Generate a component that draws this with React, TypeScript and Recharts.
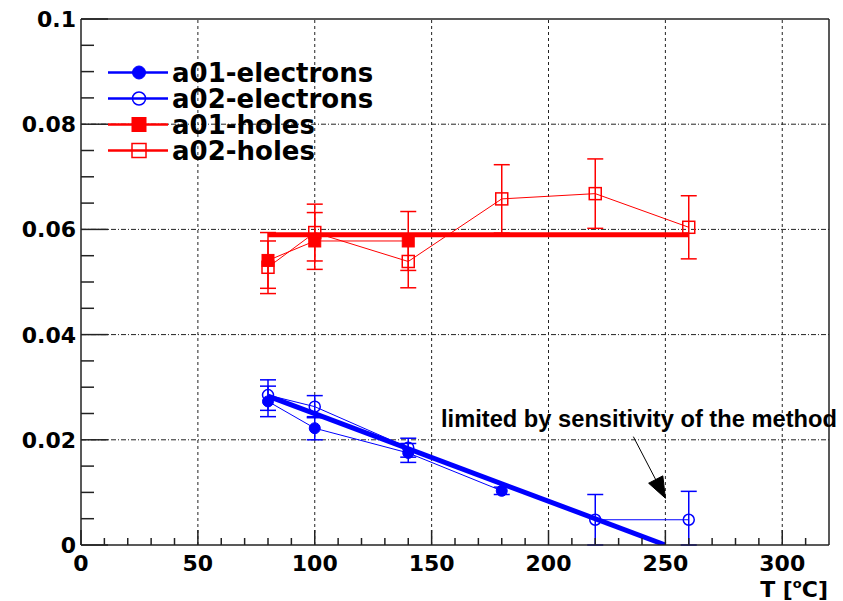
import React from 'react';
import { ComposedChart, Line, XAxis, YAxis, ErrorBar, ReferenceLine, ReferenceDot, Legend } from 'recharts';

// ---- data ----
const electronsA01 = [
  { x: 80, y: 0.0273, e: 0.0029 },
  { x: 100, y: 0.0222, e: 0.0022 },
  { x: 140, y: 0.0175, e: 0.0018 },
  { x: 180, y: 0.0103, e: 0.0007 },
];
const electronsA02 = [
  { x: 80, y: 0.0285, e: 0.0029 },
  { x: 100, y: 0.0263, e: 0.0021 },
  { x: 140, y: 0.0185, e: 0.0018 },
  { x: 220, y: 0.0048, e: [0.0048, 0.0048] },
  { x: 260, y: 0.0048, e: [0.0048, 0.0054] },
];
const holesA01 = [
  { x: 80, y: 0.0541, e: 0.0053 },
  { x: 100, y: 0.0578, e: 0.0054 },
  { x: 140, y: 0.0578, e: 0.0056 },
];
const holesA02 = [
  { x: 80, y: 0.0528, e: 0.005 },
  { x: 100, y: 0.0594, e: 0.0054 },
  { x: 140, y: 0.0539, e: 0.005 },
  { x: 180, y: 0.0658, e: 0.0065 },
  { x: 220, y: 0.0668, e: 0.0066 },
  { x: 260, y: 0.0604, e: 0.006 },
];
const holesFit = [
  { x: 80, y: 0.059 },
  { x: 260, y: 0.059 },
];
const electronsFit = [
  { x: 80, y: 0.0283 },
  { x: 250, y: 0 },
];
const arrowPoints = [
  { x: 236.3, y: 0.0206 },
  { x: 250, y: 0.0089 },
];
const annotation = { x: 154, y: 0.0225, text: 'limited by sensitivity of the method' };

const xTicks = [0, 10, 20, 30, 40, 50, 60, 70, 80, 90, 100, 110, 120, 130, 140, 150, 160, 170, 180, 190, 200, 210, 220, 230, 240, 250, 260, 270, 280, 290, 300, 310];
const xLabels = ['0', '50', '100', '150', '200', '250', '300'];
const yTicks = [0, 0.005, 0.01, 0.015, 0.02, 0.025, 0.03, 0.035, 0.04, 0.045, 0.05, 0.055, 0.06, 0.065, 0.07, 0.075, 0.08, 0.085, 0.09, 0.095, 0.1];
const yLabels = ['0', '0.02', '0.04', '0.06', '0.08', '0.1'];
const gridX = [50, 100, 150, 200, 250, 300];
const gridY = [0.02, 0.04, 0.06, 0.08];

const legendItems = [
  { name: 'a01-electrons', color: '#0000ff', marker: 'filledCircle' },
  { name: 'a02-electrons', color: '#0000ff', marker: 'openCircle' },
  { name: 'a01-holes', color: '#ff0000', marker: 'filledSquare' },
  { name: 'a02-holes', color: '#ff0000', marker: 'openSquare' },
];

const BLUE = '#0000ff';
const RED = '#ff0000';
const FONT = '"DejaVu Sans", sans-serif';

function Marker({ kind, cx, cy, color, size }: any) {
  const s = size;
  if (kind === 'filledCircle') return <circle cx={cx} cy={cy} r={s / 2} fill={color} stroke={color} strokeWidth={1} />;
  if (kind === 'openCircle') return <circle cx={cx} cy={cy} r={s / 2} fill="none" stroke={color} strokeWidth={1.5} />;
  if (kind === 'filledSquare') return <rect x={cx - s / 2} y={cy - s / 2} width={s} height={s} fill={color} stroke={color} />;
  return <rect x={cx - s / 2} y={cy - s / 2} width={s} height={s} fill="none" stroke={color} strokeWidth={1.5} />;
}

const makeDot = (kind: string, color: string, size: number) => (p: any) => {
  if (p.cx == null || p.cy == null) return <g key={p.index} />;
  return (
    <g key={p.index}>
      <Marker kind={kind} cx={p.cx} cy={p.cy} color={color} size={size} />
    </g>
  );
};

const arrowDot = (p: any) => {
  if (p.index !== 1) return <g key={p.index} />;
  const dx = 0.459, dy = 0.888; // arrow direction in pixels
  const px = 0.888, py = -0.459;
  const L = 21, W = 8;
  const bx = p.cx - dx * L, by = p.cy - dy * L;
  const pts = `${p.cx},${p.cy} ${bx + px * W},${by + py * W} ${bx - px * W},${by - py * W}`;
  return <polygon key={p.index} points={pts} fill="#000" stroke="#000" />;
};

const YTick = (props: any) => {
  const { x, y, index } = props;
  const major = index % 4 === 0;
  return (
    <g>
      <line x1={x} y1={y} x2={x + (major ? 27 : 13)} y2={y} stroke="#222" strokeWidth={1.5} />
      {major && (
        <text x={x - 5} y={y + 8} textAnchor="end" fontFamily={FONT} fontWeight="bold" fontSize={22} fill="#000">
          {yLabels[index / 4]}
        </text>
      )}
    </g>
  );
};

const XTick = (props: any) => {
  const { x, y, index } = props;
  const major = index % 5 === 0;
  return (
    <g>
      <line x1={x} y1={y} x2={x} y2={y - (major ? 15 : 7)} stroke="#222" strokeWidth={1.5} />
      {major && (
        <text x={x} y={y + 26} textAnchor="middle" fontFamily={FONT} fontWeight="bold" fontSize={22} fill="#000">
          {xLabels[index / 5]}
        </text>
      )}
    </g>
  );
};

const XTitle = (props: any) => {
  const vb = props.viewBox || { x: 81, y: 545, width: 748 };
  return (
    <text x={vb.x + vb.width - 1} y={vb.y + 52} textAnchor="end" fontFamily={FONT} fontWeight="bold" fontSize={22} fill="#000">
      T [<tspan dy={-9} fontSize={13}>o</tspan>
      <tspan dy={9}>C]</tspan>
    </text>
  );
};

const LegendBox = () => (
  <svg width={300} height={110} style={{ overflow: 'visible', display: 'block' }}>
    {legendItems.map((it, i) => {
      const cy = 14.5 + i * 26;
      return (
        <g key={it.name}>
          <line x1={0} y1={cy} x2={60} y2={cy} stroke={it.color} strokeWidth={2.5} />
          <Marker kind={it.marker} cx={31} cy={cy} color={it.color} size={it.marker.includes('Square') ? 14 : 13} />
          <text x={64} y={cy + 9} fontFamily={FONT} fontWeight="bold" fontSize={26} fill="#000">
            {it.name}
          </text>
        </g>
      );
    })}
  </svg>
);

export default function App() {
  return (
    <div style={{ position: 'absolute', left: 0, top: 0, width: 843, height: 601, background: '#fff' }}>
      <ComposedChart width={843} height={601} margin={{ top: 19, right: 14, left: 11, bottom: 16 }}>
        <XAxis
          dataKey="x"
          type="number"
          domain={[0, 320]}
          ticks={xTicks}
          interval={0}
          tick={<XTick />}
          tickLine={false}
          tickSize={0}
          tickMargin={0}
          height={40}
          allowDataOverflow
          axisLine={{ stroke: '#222', strokeWidth: 1.5 }}
          label={<XTitle />}
        />
        <YAxis
          type="number"
          domain={[0, 0.1]}
          ticks={yTicks}
          interval={0}
          tick={<YTick />}
          tickLine={false}
          tickSize={0}
          tickMargin={0}
          width={70}
          allowDataOverflow
          axisLine={{ stroke: '#222', strokeWidth: 1.5 }}
        />
        {gridX.map((v) => (
          <ReferenceLine key={'gx' + v} x={v} stroke="#222" strokeDasharray="3 3" strokeWidth={1} />
        ))}
        {gridY.map((v) => (
          <ReferenceLine key={'gy' + v} y={v} stroke="#222" strokeDasharray="5 2 1 2" strokeWidth={1} />
        ))}
        <ReferenceLine x={320} stroke="#222" strokeWidth={1.5} />
        <ReferenceLine y={0.1} stroke="#222" strokeWidth={1.5} />

        <Line data={holesFit} dataKey="y" stroke={RED} strokeWidth={5} dot={false} isAnimationActive={false} legendType="none" />
        <Line data={electronsFit} dataKey="y" stroke={BLUE} strokeWidth={5} dot={false} isAnimationActive={false} legendType="none" />

        <Line data={holesA02} dataKey="y" stroke={RED} strokeWidth={1} dot={makeDot('openSquare', RED, 12)} isAnimationActive={false}>
          <ErrorBar dataKey="e" direction="y" width={8} stroke={RED} strokeWidth={1.5} />
        </Line>
        <Line data={holesA01} dataKey="y" stroke={RED} strokeWidth={1} dot={makeDot('filledSquare', RED, 12)} isAnimationActive={false}>
          <ErrorBar dataKey="e" direction="y" width={8} stroke={RED} strokeWidth={1.5} />
        </Line>
        <Line data={electronsA02} dataKey="y" stroke={BLUE} strokeWidth={1} dot={makeDot('openCircle', BLUE, 11)} isAnimationActive={false}>
          <ErrorBar dataKey="e" direction="y" width={8} stroke={BLUE} strokeWidth={1.5} />
        </Line>
        <Line data={electronsA01} dataKey="y" stroke={BLUE} strokeWidth={1} dot={makeDot('filledCircle', BLUE, 11)} isAnimationActive={false}>
          <ErrorBar dataKey="e" direction="y" width={8} stroke={BLUE} strokeWidth={1.5} />
        </Line>

        <Line data={arrowPoints} dataKey="y" stroke="#000" strokeWidth={1} dot={arrowDot} isAnimationActive={false} legendType="none" />
        <ReferenceDot
          x={annotation.x}
          y={annotation.y}
          r={0}
          shape={(p: any) => (
            <text x={p.cx} y={p.cy} fontFamily='"Liberation Sans", Arial, sans-serif' fontWeight="bold" fontSize={23} textLength={396} lengthAdjust="spacingAndGlyphs" fill="#000">
              {annotation.text}
            </text>
          )}
        />
        <Legend
          layout="vertical"
          align="center"
          verticalAlign="middle"
          content={() => <LegendBox />}
          wrapperStyle={{ position: 'absolute', left: 108, top: 58, width: 300, height: 110 }}
        />
      </ComposedChart>
    </div>
  );
}
